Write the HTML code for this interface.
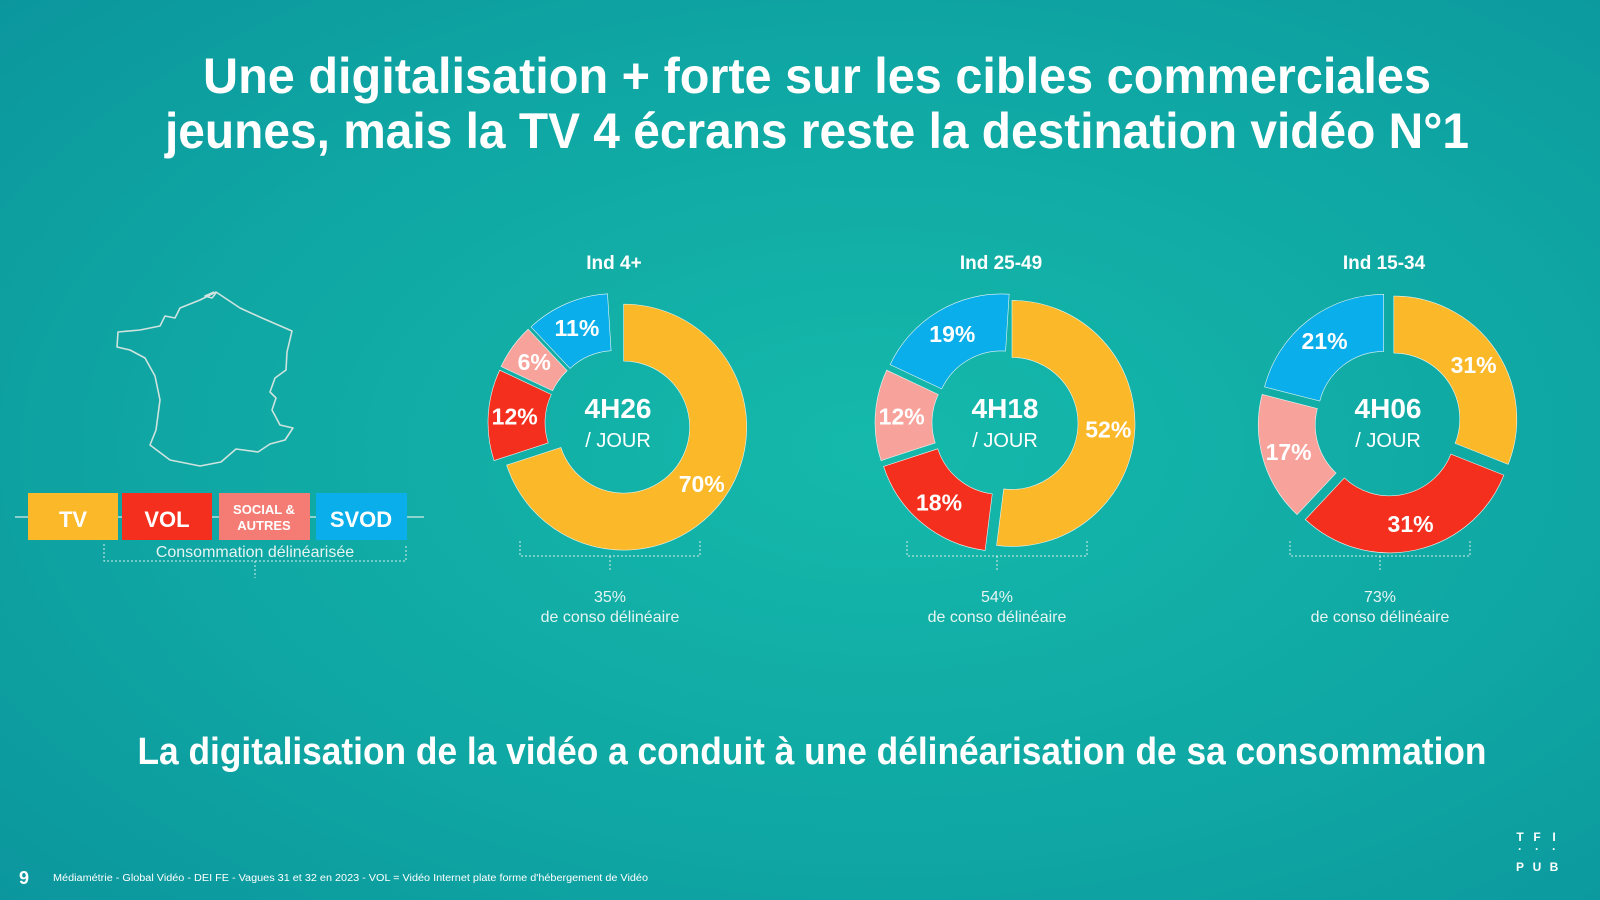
<!DOCTYPE html>
<html><head><meta charset="utf-8">
<style>
html,body{margin:0;padding:0;}
body{width:1600px;height:900px;overflow:hidden;font-family:"Liberation Sans",sans-serif;}
svg{display:block;}
</style></head>
<body>
<svg width="1600" height="900" viewBox="0 0 1600 900" xmlns="http://www.w3.org/2000/svg">
<defs>
<radialGradient id="bg" cx="0.55" cy="0.5" r="0.75">
<stop offset="0" stop-color="#15b9ab"/>
<stop offset="0.6" stop-color="#0fa6a3"/>
<stop offset="1" stop-color="#0b969d"/>
</radialGradient>
</defs>
<rect width="1600" height="900" fill="url(#bg)"/>

<g fill="#fff" font-weight="bold" text-anchor="middle" font-family="Liberation Sans, sans-serif">
<text x="817" y="93" font-size="50" textLength="1228" lengthAdjust="spacingAndGlyphs">Une digitalisation + forte sur les cibles commerciales</text>
<text x="817" y="148" font-size="50" textLength="1304" lengthAdjust="spacingAndGlyphs">jeunes, mais la TV 4 écrans reste la destination vidéo N°1</text>
</g>

<g id="map" fill="none" stroke="#cfe3df" stroke-width="1.6" stroke-linejoin="round">
<path d="M216 293 L212 298 L205 296 L214 292 M216 292 L240 308 L262 318 L292 331 L287 352 L286 370 L275 378 L270 392 L276 398 L272 410 L280 425 L293 428 L285 440 L270 444 L258 452 L236 449 L221 462 L200 466 L170 460 L150 445 L156 430 L160 400 L155 376 L145 358 L130 350 L117 347 L118 332 L140 330 L160 326 L165 316 L175 318 L180 308 L200 300 Z"/>
</g>

<g id="legend">
<line x1="15" y1="517" x2="424" y2="517" stroke="#d8ece8" stroke-width="1.2"/>
<rect x="28" y="493" width="90" height="47" fill="#fbb829"/>
<rect x="122" y="493" width="90" height="47" fill="#f52f1e"/>
<rect x="219" y="493" width="91" height="47" fill="#f47c74"/>
<rect x="316" y="493" width="91" height="47" fill="#0aaeea"/>
<g fill="#fff" font-weight="bold" text-anchor="middle">
<text x="73" y="527" font-size="22">TV</text>
<text x="167" y="527" font-size="22">VOL</text>
<text x="264" y="514" font-size="13">SOCIAL &amp;</text>
<text x="264" y="530" font-size="13">AUTRES</text>
<text x="361" y="527" font-size="22">SVOD</text>
</g>
<path d="M104 544 V561 H406 V544 M255 561 V578" fill="none" stroke="#d8ece8" stroke-width="1" stroke-dasharray="2,2"/>
<text x="255" y="557" font-size="16" fill="#e6f4f2" text-anchor="middle">Consommation délinéarisée</text>
</g>

<g id="charts"></g>

<text x="812" y="764" font-size="38" font-weight="bold" fill="#fff" text-anchor="middle" textLength="1349" lengthAdjust="spacingAndGlyphs">La digitalisation de la vidéo a conduit à une délinéarisation de sa consommation</text>

<text x="19" y="884" font-size="18" font-weight="bold" fill="#fff">9</text>
<text x="53" y="881" font-size="10" fill="#fff" textLength="595" lengthAdjust="spacingAndGlyphs">Médiamétrie - Global Vidéo - DEI FE - Vagues 31 et 32 en 2023 - VOL = Vidéo Internet plate forme d'hébergement de Vidéo</text>
<g fill="#fff" font-size="12" font-weight="bold" text-anchor="middle">
<text x="1520" y="841">T</text><text x="1537" y="841">F</text><text x="1554" y="841">I</text>
<text x="1520" y="853">·</text><text x="1537" y="853">·</text><text x="1554" y="853">·</text>
<text x="1520" y="871">P</text><text x="1537" y="871">U</text><text x="1554" y="871">B</text>
</g>
</svg>

<script>
const targets = ["Ind 4+", "Ind 25-49", "Ind 15-34"];
const durations = ["4H26", "4H18", "4H06"];
const tvShare = [70, 52, 31];
const volShare = [12, 18, 31];
const socialShare = [6, 12, 17];
const svodShare = [11, 19, 21];
const delinShare = ["35%", "54%", "73%"];
const seriesColors = ["#fbb829", "#f52f1e", "#f7a39c", "#0aaeea"];
const seriesNames = ["tv", "vol", "social", "svod"];

const NS = "http://www.w3.org/2000/svg";
const root = document.getElementById("charts");
const centersX = [618, 1005, 1388];
const cy = 423, rOut = 123, rIn = 66, explode = 7;

function angleToXY(cx, cy, r, deg) {
  const a = (deg - 90) * Math.PI / 180;
  return [cx + r * Math.cos(a), cy + r * Math.sin(a)];
}
function mk(tag, attrs, parent) {
  const e = document.createElementNS(NS, tag);
  for (const k in attrs) e.setAttribute(k, attrs[k]);
  parent.appendChild(e);
  return e;
}

for (let i = 0; i < targets.length; i++) {
  const cx = centersX[i];
  const g = mk("g", {}, root);
  
  
  const vals = [tvShare[i], volShare[i], socialShare[i], svodShare[i]];
  let start = 0;
  for (let s = 0; s < vals.length; s++) {
    const sweep = vals[s] * 3.6;
    const end = start + sweep;
    const mid = start + sweep / 2;
    const [dx, dy] = angleToXY(0, 0, explode, mid);
    const ox = cx + dx, oy = cy + dy;
    const p1 = angleToXY(ox, oy, rOut, start), p2 = angleToXY(ox, oy, rOut, end);
    const p3 = angleToXY(ox, oy, rIn, end), p4 = angleToXY(ox, oy, rIn, start);
    const large = sweep > 180 ? 1 : 0;
    const path = mk("path", {
      d: `M${p1[0]} ${p1[1]} A${rOut} ${rOut} 0 ${large} 1 ${p2[0]} ${p2[1]} L${p3[0]} ${p3[1]} A${rIn} ${rIn} 0 ${large} 0 ${p4[0]} ${p4[1]} Z`,
      fill: seriesColors[s], stroke: "#e9f6f4", "stroke-width": "0.6"
    }, g);
    
    
    const lp = angleToXY(ox, oy, (rIn + rOut) / 2 + 2, mid);
    const t = mk("text", { x: lp[0], y: lp[1] + 8, "font-size": "23", "font-weight": "bold", fill: "#fff", "text-anchor": "middle" }, g);
    t.textContent = vals[s] + "%";
    
    
    start = end;
  }
  const title = mk("text", { x: cx - 4, y: 269, "font-size": "19", "font-weight": "bold", fill: "#fff", "text-anchor": "middle" }, g);
  title.textContent = targets[i];
  
  
  const c1 = mk("text", { x: cx, y: 418, "font-size": "28", "font-weight": "bold", fill: "#fff", "text-anchor": "middle" }, g);
  c1.textContent = durations[i];
  
  
  const c2 = mk("text", { x: cx, y: 447, "font-size": "20", fill: "#fff", "text-anchor": "middle" }, g);
  c2.textContent = "/ JOUR";
  
  
  const bx = cx - 8;
  const br = mk("path", { d: `M${bx - 90} 541 V556 H${bx + 90} V541 M${bx} 556 V572`, fill: "none", stroke: "#d8ece8", "stroke-width": "1", "stroke-dasharray": "2,2" }, g);
  
  
  const d1 = mk("text", { x: bx, y: 602, "font-size": "16", fill: "#e6f4f2", "text-anchor": "middle" }, g);
  d1.textContent = delinShare[i];
  
  
  const d2 = mk("text", { x: bx, y: 622, "font-size": "16", fill: "#e6f4f2", "text-anchor": "middle" }, g);
  d2.textContent = "de conso délinéaire";
  
  
}
</script>
</body></html>
